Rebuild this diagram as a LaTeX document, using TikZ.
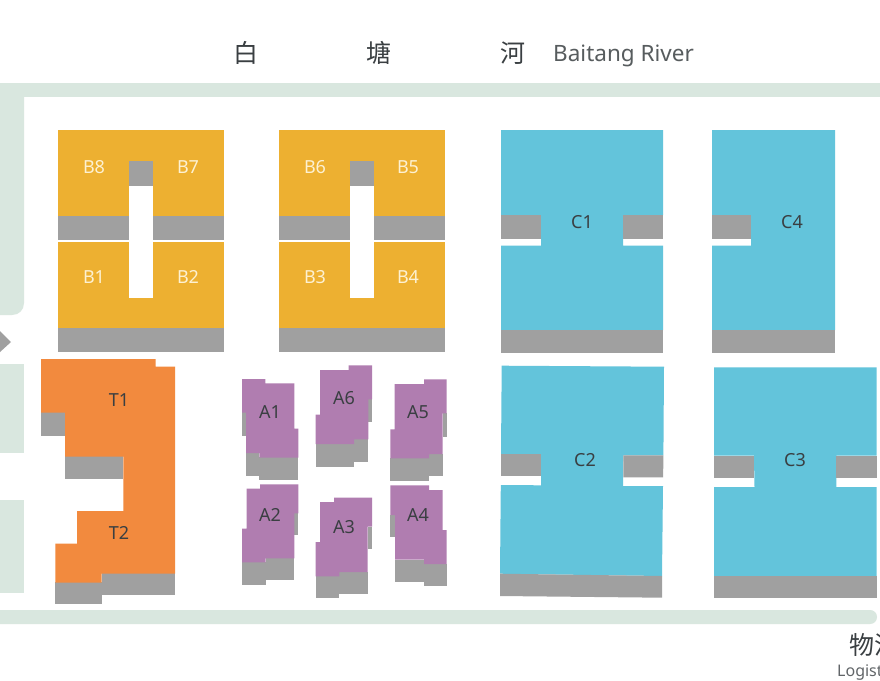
\documentclass[tikz,border=0pt]{standalone}
\usepackage{fontspec}
\setmainfont{Noto Sans}
\newfontfamily\cjkfont{Noto Sans CJK SC}
\tikzset{
  road/.style={fill=roadgreen},
  gold/.style={fill=blockgold},
  sky/.style={fill=blocksky},
  tang/.style={fill=blocktang},
  plum/.style={fill=blockplum},
  shade/.style={fill=shadegrey},
  gap/.style={fill=white},
  unitlabel/.style={font=\fontsize{18}{20}\selectfont, text=inkgrey, inner sep=0pt},
  goldlabel/.style={unitlabel, text=creamink},
  rivercn/.style={inner sep=0pt, font=\cjkfont\fontsize{25}{29}\selectfont, text=inkgrey},
}
\definecolor{roadgreen}{HTML}{D9E7DF}
\definecolor{blockgold}{HTML}{EDB031}
\definecolor{blocksky}{HTML}{63C4DB}
\definecolor{blocktang}{HTML}{F28A3E}
\definecolor{blockplum}{HTML}{B07DB0}
\definecolor{shadegrey}{HTML}{A0A0A0}
\definecolor{inkgrey}{HTML}{3A3F42}
\definecolor{creamink}{HTML}{FDF1D2}
\begin{document}
\begin{tikzpicture}[x=1pt,y=-1pt]
  \clip (0,0) rectangle (880,680);
  \fill[white] (0,0) rectangle (880,680);

  % roads
  \fill[road] (0,83) rectangle (880,97);
  \fill[road] (0,83) -- (24,83) -- (24,303) .. controls (24,310) and (19,315) .. (12,315) -- (0,315) -- cycle;
  \fill[road] (0,364) rectangle (24,453);
  \fill[road] (0,500) rectangle (24,593);
  \fill[road] (0,610) -- (870,610) .. controls (874,610) and (877,613) .. (877,617) .. controls (877,621) and (874,624) .. (870,624) -- (0,624) -- cycle;
  \fill[shade] (0,331) -- (11,342) -- (0,352) -- cycle;

  % B blocks
  \fill[gold] (58,130) rectangle (224,216);
  \fill[gold] (58,242) rectangle (224,328);
  \fill[shade] (58,216) rectangle (129,240);
  \fill[shade] (153,216) rectangle (224,240);
  \fill[shade] (58,328) rectangle (224,352);
  \fill[gap] (129,186) rectangle (153,298);
  \fill[shade] (129,161) rectangle (153,186);

  \fill[gold] (279,130) rectangle (445,216);
  \fill[gold] (279,242) rectangle (445,328);
  \fill[shade] (279,216) rectangle (350,240);
  \fill[shade] (374,216) rectangle (445,240);
  \fill[shade] (279,328) rectangle (445,352);
  \fill[gap] (350,186) rectangle (374,298);
  \fill[shade] (350,161) rectangle (374,186);

  % C blocks
  \fill[sky] (501,130) -- (663,130) -- (663,215) -- (623,215) -- (623,245.5) -- (663,245.5) -- (663,330) -- (501,330) -- (501,245.5) -- (541,245.5) -- (541,215) -- (501,215) -- cycle;
  \fill[shade] (501,215) rectangle (541,239);
  \fill[shade] (623,215) rectangle (663,239);
  \fill[shade] (501,330) rectangle (663,353);

  \fill[sky] (712,130) -- (835,130) -- (835,330) -- (712,330) -- (712,245.5) -- (751,245.5) -- (751,215) -- (712,215) -- cycle;
  \fill[shade] (712,215) rectangle (751,239);
  \fill[shade] (712,330) rectangle (835,353);

  \fill[sky] (501.7,365.7) -- (664,366.7) -- (663.4,455.3) -- (623.3,455.3) -- (623,486) -- (663,486) -- (662,576) -- (500,573.7) -- (500.8,485) -- (541,485.3) -- (541,454) -- (501,454) -- cycle;
  \fill[shade] (501,454) -- (541,454) -- (541,476) -- (501,476) -- cycle;
  \fill[shade] (623.3,455.3) -- (663.3,455.3) -- (663.2,477.3) -- (623.3,477.3) -- cycle;
  \fill[shade] (500,573.7) -- (662,576) -- (662,597.7) -- (500,596) -- cycle;

  \fill[sky] (714,367.3) -- (876.7,367.3) -- (876.7,455.7) -- (836.3,455.7) -- (836.3,487) -- (876.7,487) -- (876.7,576) -- (714,576) -- (714,487) -- (754.5,487) -- (754,455.7) -- (714,455.7) -- cycle;
  \fill[shade] (714,455.7) rectangle (754,477.7);
  \fill[shade] (836.3,455.7) rectangle (876.7,477.7);
  \fill[shade] (714,576) rectangle (876.7,598);

  % T block
  \fill[shade] (41,412) rectangle (65,436);
  \fill[shade] (65,456) rectangle (123.3,479);
  \fill[shade] (101.7,573) rectangle (175,595.3);
  \fill[shade] (55.3,582) rectangle (101.7,604);
  \fill[tang] (41,359) -- (155.7,359) -- (155.7,366.7) -- (175,366.7) -- (175,573.7) -- (101.7,573.7) -- (101.7,582.7) -- (55.3,582.7) -- (55.3,543.7) -- (77,543.7) -- (77,511) -- (123.3,511) -- (123.3,456.7) -- (65,456.7) -- (65,412.7) -- (41,412.7) -- cycle;

  % A blocks
  \fill[shade] (242,412) rectangle (246,436);
  \fill[shade] (246,453) rectangle (259.3,475.7);
  \fill[shade] (259.3,457) rectangle (298.3,480.3);
  \fill[plum] (242,379) -- (265.3,379) -- (265.3,383.3) -- (294.3,383.3) -- (294.3,428.7) -- (298.3,428.7) -- (298.3,457.7) -- (259.3,457.7) -- (259.3,453) -- (246,453) -- (246,412.7) -- (242,412.7) -- cycle;

  \fill[shade] (368,399) rectangle (372,422);
  \fill[shade] (315.7,444) rectangle (354,466.7);
  \fill[shade] (354,439) rectangle (368.3,462);
  \fill[plum] (320,370) -- (348.7,370) -- (348.7,365.3) -- (372,365.3) -- (372,399.3) -- (368.3,399.3) -- (368.3,439.3) -- (354,439.3) -- (354,444) -- (315.7,444) -- (315.7,414.7) -- (320,414.7) -- cycle;

  \fill[shade] (442.5,413) rectangle (446.7,436.7);
  \fill[shade] (390.3,458) rectangle (429,480.7);
  \fill[shade] (429,454) rectangle (442.7,476.3);
  \fill[plum] (394.7,384) -- (424,384) -- (424,379.3) -- (446.7,379.3) -- (446.7,413.3) -- (442.7,413.3) -- (442.7,454) -- (429,454) -- (429,458.3) -- (390.3,458.3) -- (390.3,429.3) -- (394.7,429.3) -- cycle;

  \fill[shade] (294,513) rectangle (298.3,535.3);
  \fill[shade] (242,562) rectangle (265.7,584.7);
  \fill[shade] (265.7,558) rectangle (294.3,580.3);
  \fill[plum] (246.7,488.7) -- (260,488.7) -- (260,484.3) -- (298.3,484.3) -- (298.3,513.3) -- (294.3,513.3) -- (294.3,558.3) -- (265.7,558.3) -- (265.7,562.3) -- (242,562.3) -- (242,528.7) -- (246.7,528.7) -- cycle;

  \fill[shade] (367.5,526.5) rectangle (372,548.7);
  \fill[shade] (315.7,576) rectangle (339.3,598);
  \fill[shade] (339.3,572) rectangle (367.7,593.7);
  \fill[plum] (320,502) -- (334,502) -- (334,497.7) -- (372,497.7) -- (372,526.7) -- (367.7,526.7) -- (367.7,572) -- (339.3,572) -- (339.3,576.3) -- (315.7,576.3) -- (315.7,542) -- (320,542) -- cycle;

  \fill[shade] (390.3,515) rectangle (395,536.7);
  \fill[shade] (395,559.5) rectangle (424,581.7);
  \fill[shade] (424,564) rectangle (446.7,585.7);
  \fill[plum] (390.3,485.3) -- (429,485.3) -- (429,490) -- (442.7,490) -- (442.7,530) -- (446.7,530) -- (446.7,564) -- (424,564) -- (424,559.7) -- (395,559.7) -- (395,515) -- (390.3,515) -- cycle;

  % labels
  \node[goldlabel] (b8) at (94,167) {B8};
  \node[goldlabel] (b7) at (188,167) {B7};
  \node[goldlabel] (b1) at (94,277) {B1};
  \node[goldlabel] (b2) at (188,277) {B2};
  \node[goldlabel] (b6) at (315,167) {B6};
  \node[goldlabel] (b5) at (408,167) {B5};
  \node[goldlabel] (b3) at (315,277) {B3};
  \node[goldlabel] (b4) at (408,277) {B4};
  \node[unitlabel] (c1) at (582,222) {C1};
  \node[unitlabel] (c4) at (792,222) {C4};
  \node[unitlabel] (c2) at (585,460) {C2};
  \node[unitlabel] (c3) at (795,460) {C3};
  \node[unitlabel] (t1) at (119,400) {T1};
  \node[unitlabel] (t2) at (119,533) {T2};
  \node[unitlabel] (a1) at (270,412) {A1};
  \node[unitlabel] (a6) at (344,398) {A6};
  \node[unitlabel] (a5) at (418,412) {A5};
  \node[unitlabel] (a2) at (270,515) {A2};
  \node[unitlabel] (a3) at (344,527) {A3};
  \node[unitlabel] (a4) at (418,515) {A4};

  \node[rivercn] (river1) at (246,53) {白};
  \node[rivercn] (river2) at (379,53) {塘};
  \node[rivercn] (river3) at (513,53) {河};
  \node[inner sep=0pt, anchor=base west, font=\fontsize{22.5}{26}\selectfont, text=inkgrey!85] (river) at (553,61) {Baitang River};
  \node[inner sep=0pt, anchor=west, font=\cjkfont\fontsize{25}{29}\selectfont, text=inkgrey] (logcn) at (849,645) {物流};
  \node[inner sep=0pt, anchor=base west, font=\fontsize{16}{19}\selectfont, text=inkgrey!80] (logen) at (837,676) {Logistics};
\end{tikzpicture}
\end{document}
